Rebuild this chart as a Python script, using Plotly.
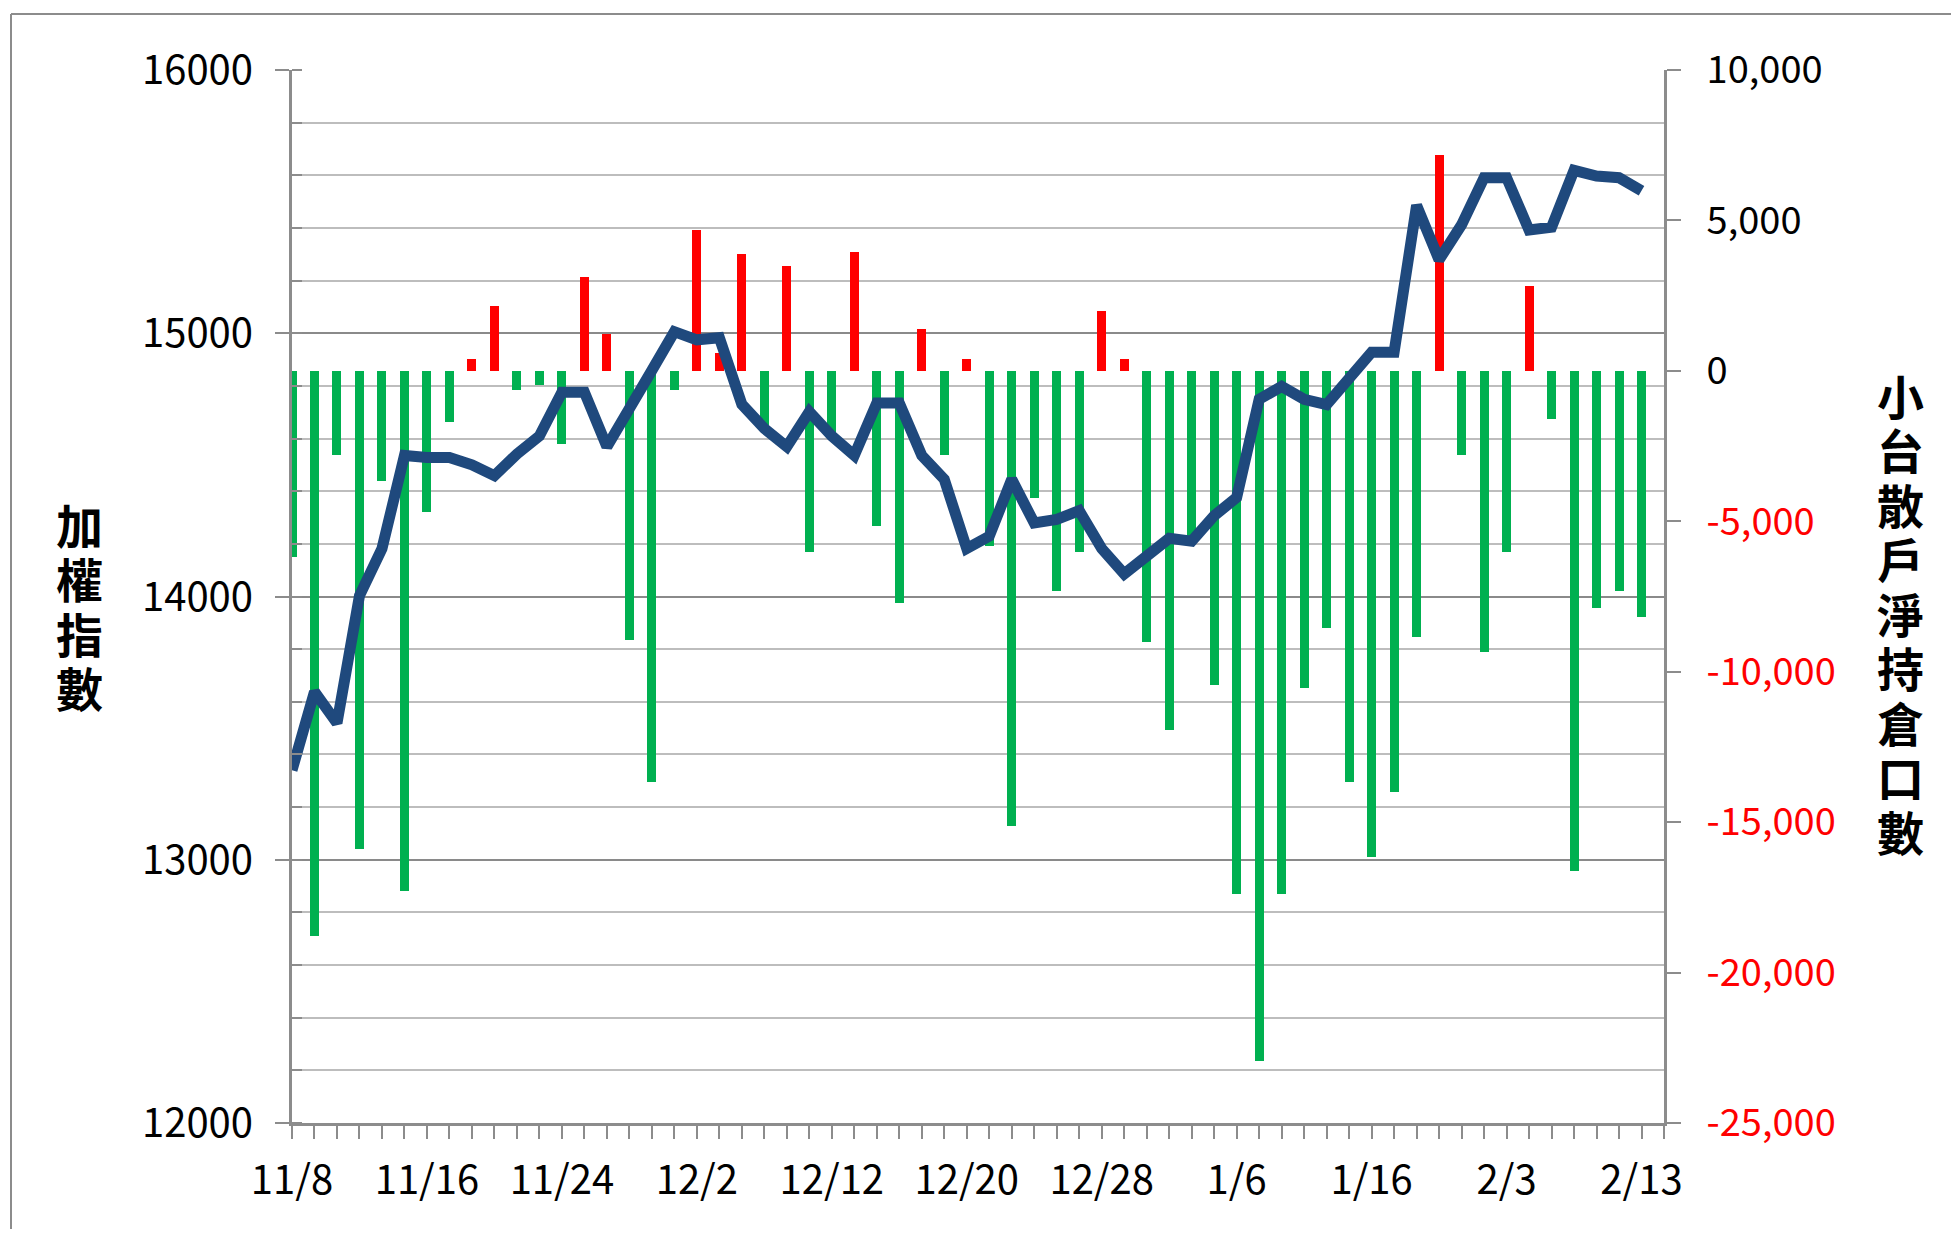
import plotly.graph_objects as go

# ---------------- data ----------------
dates = ["11/8", "11/9", "11/10", "11/11", "11/14", "11/15", "11/16", "11/17", "11/18", "11/21",
         "11/22", "11/23", "11/24", "11/25", "11/28", "11/29", "11/30", "12/1", "12/2", "12/5",
         "12/6", "12/7", "12/8", "12/9", "12/12", "12/13", "12/14", "12/15", "12/16", "12/19",
         "12/20", "12/21", "12/22", "12/23", "12/26", "12/27", "12/28", "12/29", "12/30", "1/3",
         "1/4", "1/5", "1/6", "1/9", "1/10", "1/11", "1/12", "1/13", "1/16", "1/17",
         "1/30", "1/31", "2/1", "2/2", "2/3", "2/6", "2/7", "2/8", "2/9", "2/10", "2/13"]

taiex = [13340, 13638, 13519, 14003, 14182, 14536, 14528, 14528, 14500, 14459,
         14541, 14610, 14776, 14776, 14569, 14707, 14859, 15006, 14975, 14983,
         14730, 14638, 14569, 14702, 14610, 14536, 14735, 14735, 14536, 14445,
         14182, 14229, 14445, 14279, 14293, 14326, 14182, 14086, 14149, 14221,
         14210, 14307, 14376, 14749, 14798, 14749, 14729, 14823, 14928, 14928,
         15486, 15279, 15412, 15591, 15591, 15392, 15403, 15619, 15597, 15591, 15541]

net_pos = [-6200, -18800, -2800, -15900, -3650, -17300, -4700, -1700, 390, 2170,
           -630, -480, -2420, 3120, 1230, -8940, -13660, -630, 4690, 580,
           3870, -1930, 3480, -6020, -2130, 3960, -5150, -7710, 1400, -2800,
           390, -5830, -15130, -4230, -7320, -6020, 1980, 390, -9020, -11940,
           -5510, -10440, -17400, -22940, -17400, -10540, -8560, -13660, -16170, -14000,
           -8850, 7180, -2800, -9330, -6020, 2830, -1600, -16630, -7880, -7320, -8170]

left_ticks = [12000, 13000, 14000, 15000, 16000]
right_ticks = [10000, 5000, 0, -5000, -10000, -15000, -20000, -25000]
label_every = 6
left_title = "加權指數"
right_title = "小台散戶淨持倉口數"

# ---------------- layout geometry ----------------
OFF = 8                      # default page body margin
W, H = 1959 - 2 * OFF, 1237 - 2 * OFF
L, T = 292 - OFF, 70 - OFF   # plot area in figure pixels
Rr, Bb = 1664 - OFF, 1123 - OFF
R, B = W - Rr, H - Bb
pw, ph = Rr - L, Bb - T


def px(x):   # page pixel -> paper x
    return (x - OFF - L) / pw


def py(y):   # page pixel -> paper y
    return (Bb - (y - OFF)) / ph


FONT = "Noto Sans CJK TC"
AX = "#8c8c8c"

n = len(dates)
xs = list(range(n))
bar_colors = ["#FF0000" if v > 0 else "#00B050" for v in net_pos]

fig = go.Figure()
fig.add_trace(go.Bar(x=xs, y=net_pos, marker=dict(color=bar_colors, line=dict(width=0)),
                     width=0.4, yaxis="y", name=right_title, showlegend=False))
fig.add_trace(go.Scatter(x=xs, y=taiex, mode="lines", yaxis="y2", name=left_title,
                         line=dict(color="#1F497D", width=11), showlegend=False))

x_tickvals = list(range(n + 1))
x_ticktext = [d if i % label_every == 0 else "" for i, d in enumerate(dates)] + [""]


def fmt_right(v):
    s = f"{v:,}"
    if v < 0:
        return f"<span style='color:#FF0000'>{s}</span>"
    return s


fig.update_layout(
    width=W, height=H,
    margin=dict(l=L, r=R, t=T, b=B, pad=0),
    paper_bgcolor="white", plot_bgcolor="white",
    font=dict(family=FONT, size=38, color="black"),
    bargap=0,
    xaxis=dict(range=[0, n], tickmode="array", tickvals=x_tickvals, ticktext=x_ticktext,
               ticks="outside", ticklen=13, tickwidth=2, tickcolor=AX,
               showline=True, linecolor=AX, linewidth=3, showgrid=False, zeroline=False,
               tickfont=dict(family=FONT, size=40, color="black"), ticklabelstandoff=7),
    yaxis=dict(side="right", range=[-25000, 10000], tickmode="array",
               tickvals=right_ticks, ticktext=[fmt_right(v) for v in right_ticks],
               ticks="outside", ticklen=14, tickwidth=2, tickcolor=AX,
               showline=True, linecolor=AX, linewidth=3, showgrid=False, zeroline=False,
               tickfont=dict(family=FONT, size=38, color="black"), ticklabelstandoff=18),
    yaxis2=dict(overlaying="y", side="left", range=[12000, 16000], tickmode="array",
                tickvals=left_ticks, ticktext=[str(v) for v in left_ticks],
                ticks="outside", ticklen=14, tickwidth=2, tickcolor=AX,
                showline=True, linecolor=AX, linewidth=3, zeroline=False,
                showgrid=True, gridcolor="#8a8a8a", gridwidth=2,
                minor=dict(dtick=200, showgrid=True, gridcolor="#bdbdbd", gridwidth=2,
                           ticks="inside", ticklen=10, tickwidth=2, tickcolor=AX),
                tickfont=dict(family=FONT, size=40, color="black"), ticklabelstandoff=14),
)

# outer chart border (left and top)
fig.add_shape(type="line", xref="paper", yref="paper", x0=px(11), x1=px(11),
              y0=py(1237 + 20), y1=py(14), line=dict(color=AX, width=2))
fig.add_shape(type="line", xref="paper", yref="paper", x0=px(11), x1=px(1959 + 20),
              y0=py(14), y1=py(14), line=dict(color=AX, width=2))

# vertical stacked axis titles
pitch = 54.5
for i, ch in enumerate(left_title):
    fig.add_annotation(text=f"<b>{ch}</b>", xref="paper", yref="paper", height=pitch,
                       x=px(79), y=py(523 + i * pitch), xanchor="center", yanchor="middle",
                       showarrow=False, font=dict(family=FONT, size=47, color="black"))
for i, ch in enumerate(right_title):
    fig.add_annotation(text=f"<b>{ch}</b>", xref="paper", yref="paper", height=pitch,
                       x=px(1900), y=py(394 + i * pitch), xanchor="center", yanchor="middle",
                       showarrow=False, font=dict(family=FONT, size=47, color="black"))

fig.write_html("out.html")
